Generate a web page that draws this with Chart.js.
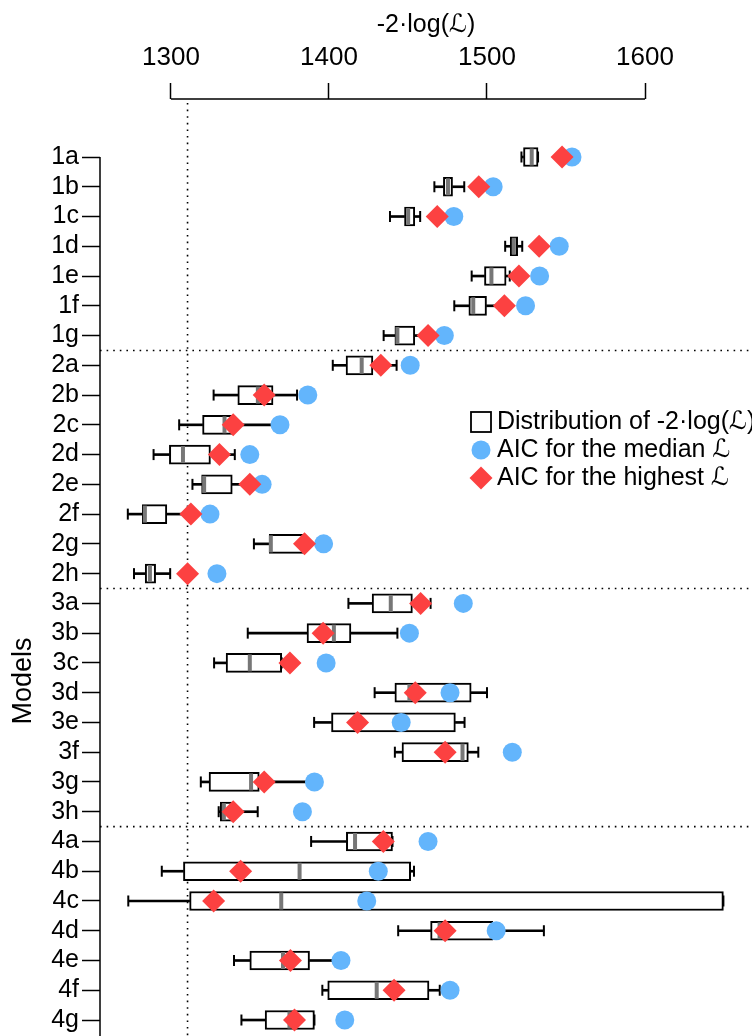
<!DOCTYPE html>
<html>
<head>
<meta charset="utf-8">
<script src="https://cdn.jsdelivr.net/npm/chart.js@4"></script>
<style>
body { margin: 0; background: #fff; }
#wrap { width: 752px; height: 1036px; position: relative; }
</style>
</head>
<body>
<div id="wrap"><canvas id="boxChart"></canvas></div>
<script>
const models = ['1a', '1b', '1c', '1d', '1e', '1f', '1g',
    '2a', '2b', '2c', '2d', '2e', '2f', '2g', '2h',
    '3a', '3b', '3c', '3d', '3e', '3f', '3g', '3h',
    '4a', '4b', '4c', '4d', '4e', '4f', '4g'];

// -2·log(L) distribution per model
const whiskerLow = [1521.8, 1466.7, 1438.6, 1511.5, 1490.3, 1479.3, 1434.6,
    1402.4, 1327.0, 1305.2, 1289.0, 1313.6, 1272.7, 1352.5, 1276.6,
    1412.3, 1348.6, 1327.3, 1428.9, 1390.6, 1441.7, 1318.9, 1330.2,
    1388.7, 1294.2, 1273.0, 1443.8, 1339.9, 1395.8, 1344.6];
const q1 = [1523.1, 1472.4, 1447.8, 1514.7, 1498.4, 1488.5, 1441.7,
    1410.8, 1342.3, 1320.0, 1299.0, 1319.4, 1281.9, 1362.2, 1283.7,
    1427.3, 1386.1, 1334.9, 1441.7, 1401.6, 1446.2, 1324.1, 1331.2,
    1411.0, 1307.9, 1311.8, 1464.3, 1349.9, 1399.2, 1359.6];
const median = [1528.3, 1475.3, 1450.1, 1517.0, 1502.8, 1491.3, 1443.3,
    1420.7, 1355.0, 1333.9, 1307.6, 1321.0, 1283.5, 1363.2, 1286.7,
    1439.1, 1403.1, 1349.9, 1450.9, 1418.0, 1484.5, 1350.7, 1333.5,
    1416.5, 1381.4, 1369.8, 1470.0, 1370.9, 1430.2, 1375.0];
const q3 = [1532.3, 1478.2, 1454.3, 1519.4, 1512.1, 1499.7, 1454.3,
    1427.8, 1364.6, 1338.8, 1325.0, 1338.8, 1297.4, 1384.0, 1290.3,
    1452.8, 1413.9, 1370.1, 1490.0, 1480.0, 1488.2, 1355.9, 1338.8,
    1440.2, 1451.7, 1649.6, 1503.7, 1387.7, 1463.3, 1390.8];
const whiskerHigh = [1532.3, 1485.6, 1457.7, 1522.3, 1514.4, 1508.0, 1462.0,
    1442.8, 1379.8, 1366.0, 1340.4, 1349.0, 1311.5, 1384.5, 1299.5,
    1464.3, 1443.3, 1370.1, 1500.0, 1485.8, 1494.5, 1387.5, 1354.9,
    1440.2, 1453.8, 1649.6, 1536.0, 1404.0, 1470.1, 1390.8];

// AIC values
const aicMedian = [1553.8, 1503.9, 1479.0, 1545.7, 1533.3, 1524.4, 1473.0,
    1451.4, 1386.6, 1369.0, 1349.9, 1357.7, 1324.7, 1396.6, 1329.1,
    1485.0, 1450.9, 1398.2, 1476.6, 1445.7, 1516.0, 1390.8, 1383.2,
    1462.7, 1431.2, 1423.9, 1505.8, 1407.6, 1476.6, 1410.0];
const aicBest = [1547.5, 1494.8, 1468.5, 1533.0, 1520.2, 1511.0, 1462.7,
    1432.8, 1359.0, 1339.4, 1330.7, 1349.9, 1312.6, 1384.5, 1310.5,
    1458.0, 1396.3, 1375.3, 1454.6, 1418.1, 1473.5, 1359.0, 1339.4,
    1434.4, 1344.1, 1327.0, 1473.5, 1375.6, 1441.2, 1378.2];

const xTicks = [1300, 1400, 1500, 1600];
const bestFit = Math.min(...aicBest);

const FONT = '"Liberation Sans", Arial, "DejaVu Sans", sans-serif';
const RED = '#fc4141';
const BLUE = '#63b5fc';
Chart.defaults.font.family = FONT;
Chart.defaults.color = '#000';

const pts = (vals) => vals.map((v, i) => ({x: v, y: i}));
const spans = (a, b) => a.map((v, i) => ({x: [v, b[i]], y: i}));

const extras = {
    id: 'extras',
    beforeDatasetsDraw(chart) {
        const {ctx, chartArea, scales: {x, y}} = chart;
        ctx.save();
        ctx.strokeStyle = '#000';
        ctx.lineWidth = 1.6;
        ctx.setLineDash([1.6, 5]);
        const vx = x.getPixelForValue(bestFit);
        ctx.beginPath();
        ctx.moveTo(vx, chartArea.top + 4);
        ctx.lineTo(vx, chartArea.bottom);
        ctx.stroke();
        for (let i = 1; i < models.length; i++) {
            if (models[i][0] !== models[i - 1][0]) {
                const py = y.getPixelForValue(i - 0.5);
                ctx.beginPath();
                ctx.moveTo(chartArea.left, py);
                ctx.lineTo(chartArea.right, py);
                ctx.stroke();
            }
        }
        ctx.restore();
    },
    afterDraw(chart) {
        const {ctx, chartArea, scales: {x, y}} = chart;
        ctx.save();
        // range-frame axis lines
        ctx.strokeStyle = '#000';
        ctx.lineWidth = 1.5;
        ctx.beginPath();
        ctx.moveTo(x.getPixelForValue(xTicks[0]), chartArea.top);
        ctx.lineTo(x.getPixelForValue(xTicks[xTicks.length - 1]), chartArea.top);
        ctx.moveTo(chartArea.left, y.getPixelForValue(0));
        ctx.lineTo(chartArea.left, chartArea.bottom);
        ctx.stroke();

        // y title
        ctx.fillStyle = '#000';
        ctx.font = '27px ' + FONT;
        ctx.textAlign = 'center';
        ctx.textBaseline = 'middle';
        ctx.save();
        ctx.translate(24, 681);
        ctx.rotate(-Math.PI / 2);
        ctx.fillText('Models', 0, 0);
        ctx.restore();

        // legend
        const lx = 481;
        const rows = [422, 450, 478];
        ctx.lineWidth = 1.8;
        ctx.fillStyle = '#fff';
        ctx.fillRect(lx - 10, rows[0] - 10, 20, 20);
        ctx.strokeRect(lx - 10, rows[0] - 10, 20, 20);
        ctx.fillStyle = BLUE;
        ctx.beginPath();
        ctx.arc(lx, rows[1], 9.5, 0, Math.PI * 2);
        ctx.fill();
        ctx.fillStyle = RED;
        ctx.beginPath();
        ctx.moveTo(lx, rows[2] - 11.5);
        ctx.lineTo(lx + 11.5, rows[2]);
        ctx.lineTo(lx, rows[2] + 11.5);
        ctx.lineTo(lx - 11.5, rows[2]);
        ctx.closePath();
        ctx.fill();
        ctx.fillStyle = '#000';
        ctx.font = '25px ' + FONT;
        ctx.textAlign = 'left';
        ctx.fillText('Distribution of -2·log(\u2112)', 497, rows[0]);
        ctx.fillText('AIC for the median \u2112', 497, rows[1]);
        ctx.fillText('AIC for the highest \u2112', 497, rows[2]);
        ctx.restore();
    }
};

new Chart(document.getElementById('boxChart'), {
    type: 'bar',
    data: {
        datasets: [
            {
                type: 'scatter',
                data: pts(aicBest),
                pointStyle: 'rectRot',
                pointRadius: 11.5,
                pointBackgroundColor: RED,
                pointBorderWidth: 0,
                order: 0,
            },
            {
                type: 'scatter',
                data: pts(aicMedian),
                pointStyle: 'circle',
                pointRadius: 9.5,
                pointBackgroundColor: BLUE,
                pointBorderWidth: 0,
                order: 1,
            },
            {
                type: 'scatter',
                data: pts(median),
                pointStyle: 'line',
                pointRotation: 90,
                pointRadius: 8.5,
                pointBorderColor: '#777',
                pointBorderWidth: 4,
                order: 2,
            },
            {
                type: 'scatter',
                data: pts(whiskerLow).concat(pts(whiskerHigh)),
                pointStyle: 'line',
                pointRotation: 90,
                pointRadius: 5.5,
                pointBorderColor: '#000',
                pointBorderWidth: 2,
                order: 3,
            },
            {
                data: spans(q1, q3),
                indexAxis: 'y',
                grouped: false,
                barThickness: 19,
                backgroundColor: '#fff',
                borderColor: '#000',
                borderWidth: 2,
                borderSkipped: false,
                order: 4,
            },
            {
                data: spans(whiskerLow, q1).concat(spans(q3, whiskerHigh)),
                indexAxis: 'y',
                grouped: false,
                barThickness: 2,
                backgroundColor: '#000',
                borderWidth: 0,
                order: 5,
            },
        ],
    },
    options: {
        responsive: true,
        maintainAspectRatio: false,
        animation: false,
        events: [],
        layout: {
            padding: 0,
            autoPadding: false,
        },
        plugins: {
            legend: {
                display: false,
            },
            tooltip: {
                enabled: false,
            },
        },
        scales: {
            x: {
                type: 'linear',
                position: 'top',
                offset: false,
                bounds: 'data',
                min: 1255.1,
                max: 1667.7,
                afterFit: (s) => {
                    s.height = 99;
                    s.paddingLeft = 0;
                    s.paddingRight = 0;
                },
                afterBuildTicks: (s) => { s.ticks = xTicks.map((v) => ({value: v})); },
                border: {
                    display: false,
                },
                grid: {
                    offset: false,
                    drawOnChartArea: false,
                    tickLength: 16,
                    tickColor: '#000',
                    tickWidth: 1.5,
                },
                ticks: {
                    padding: 10,
                    color: '#000',
                    font: { size: 26 },
                    callback: (v) => String(v),
                },
                title: {
                    display: true,
                    text: '-2·log(\u2112)',
                    color: '#000',
                    font: { size: 25 },
                    padding: { top: 10, bottom: 0 },
                },
            },
            y: {
                type: 'linear',
                reverse: true,
                offset: false,
                bounds: 'data',
                min: -1.949,
                max: 29.537,
                afterFit: (s) => {
                    s.width = 100;
                    s.paddingTop = 0;
                    s.paddingBottom = 0;
                },
                afterBuildTicks: (s) => { s.ticks = models.map((m, i) => ({value: i})); },
                border: {
                    display: false,
                },
                grid: {
                    offset: false,
                    drawOnChartArea: false,
                    tickLength: 18,
                    tickColor: '#000',
                    tickWidth: 1.5,
                },
                ticks: {
                    autoSkip: false,
                    padding: 3,
                    color: '#000',
                    font: { size: 25, lineHeight: 1 },
                    callback: (v) => models[v],
                },
            },
        },
    },
    plugins: [extras],
});
</script>
</body>
</html>
